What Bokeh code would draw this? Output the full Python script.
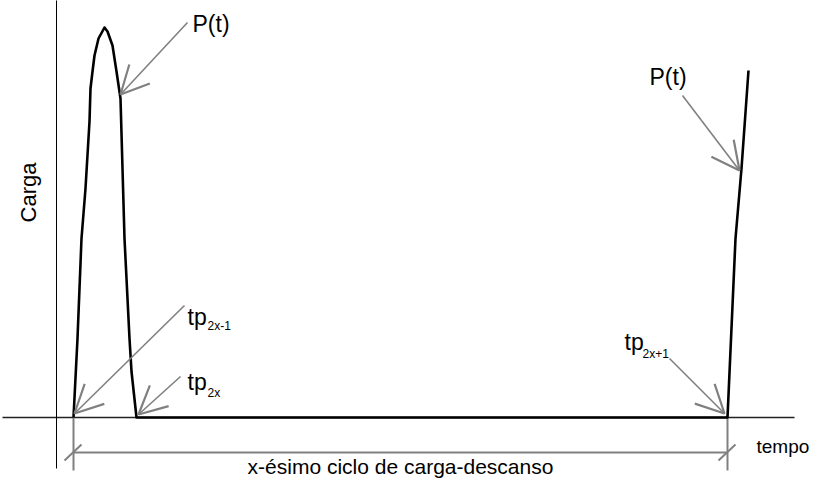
from math import pi
from bokeh.plotting import figure
from bokeh.models import Range1d, Arrow, OpenHead, ColumnDataSource
from bokeh.core.properties import value
from bokeh.embed import file_html
from bokeh.resources import INLINE

FONT = value("Liberation Sans")
GREY = "#808080"

# ---- data (time units / load units, origin at the axes' intersection) ----
load_t = [17, 21, 25, 29, 33, 34, 36, 38, 42, 48, 51, 56, 60, 64, 68, 73, 75, 80,
          671, 679, 685, 692]
load_p = [0, 79, 179, 229, 296, 329, 346, 362, 379, 390, 386, 372, 346, 319, 179, 79, 46, 0,
          0, 179, 249, 347]

axis_t_span = [-54, 738]
axis_p_span = [-51, 419]

# arrows: tail -> tip
arrow_t_start = [131, 626, 128, 124, 613]
arrow_p_start = [395, 322, 112, 41, 59]
arrow_t_end = [64, 683, 18, 82, 668]
arrow_p_end = [323, 247, 4, 3, 4]

# cycle dimension
cycle_start = 17
cycle_end = 671
dim_level = -35
dim_bottom = -53

# labels
pt_labels = ["P(t)", "P(t)"]
pt_t = [136, 593]
pt_p = [394, 341]

tp_main = ["tp", "tp", "tp"]
tp_t = [131, 131, 568]
tp_p = [101, 36, 76]
tp_sub = ["2x-1", "2x", "2x+1"]
sub_t = [151, 151, 586]
sub_p = [92, 25, 64]

p = figure(width=814, height=479, min_border=0, x_axis_type=None, y_axis_type=None,
           toolbar_location=None, output_backend="svg",
           x_range=Range1d(-56, 758), y_range=Range1d(-62, 417))
p.outline_line_color = None
p.xgrid.visible = False
p.ygrid.visible = False
p.background_fill_color = "white"
p.border_fill_color = "white"

# axes
p.line(axis_t_span, [0, 0], line_color="#222222", line_width=1.3)
p.line([0, 0], axis_p_span, line_color="black", line_width=1)

# dimension lines
p.segment(x0=[cycle_start, cycle_end], y0=[0, 0], x1=[cycle_start, cycle_end],
          y1=[dim_bottom, dim_bottom], line_color=GREY, line_width=2)
p.line([cycle_start, cycle_end], [dim_level, dim_level], line_color=GREY, line_width=2)
p.segment(x0=[cycle_start - 9, cycle_end - 9], y0=[dim_level - 8, dim_level - 8],
          x1=[cycle_start + 8, cycle_end + 8], y1=[dim_level + 8, dim_level + 8],
          line_color=GREY, line_width=2)

# load curve
p.line(load_t, load_p, line_color="black", line_width=2.6, line_join="round")

# arrows
src = ColumnDataSource(dict(xs=arrow_t_start, ys=arrow_p_start, xe=arrow_t_end, ye=arrow_p_end))
p.add_layout(Arrow(end=OpenHead(size=28, line_color=GREY, line_width=2.2), source=src,
                   x_start="xs", y_start="ys", x_end="xe", y_end="ye",
                   line_color=GREY, line_width=1.6))

# texts
p.text(x=pt_t, y=pt_p, text=pt_labels, text_font=FONT, text_font_size="23px",
       text_baseline="middle", text_align="left", text_color="black")
p.text(x=tp_t, y=tp_p, text=tp_main, text_font=FONT, text_font_size="23px",
       text_baseline="alphabetic", text_align="left", text_color="black")
p.text(x=sub_t, y=sub_p, text=tp_sub, text_font=FONT, text_font_size="12px",
       text_baseline="alphabetic", text_align="left", text_color="black")
p.text(x=[700], y=[-29], text=["tempo"], text_font=FONT, text_font_size="19px",
       text_baseline="alphabetic", text_align="left", text_color="black")
p.text(x=[-28], y=[225], text=["Carga"], text_font=FONT, text_font_size="22px",
       text_baseline="middle", text_align="center", angle=pi / 2, text_color="black")
p.text(x=[(cycle_start + cycle_end) / 2], y=[-60], text=["x-ésimo ciclo de carga-descanso"],
       text_font=FONT, text_font_size="21px", text_baseline="bottom",
       text_align="center", text_color="black")

open("out.html", "w").write(file_html(p, INLINE))
